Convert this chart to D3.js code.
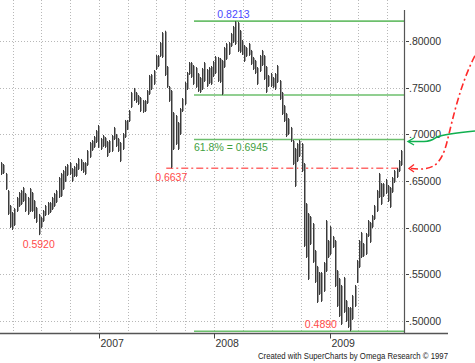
<!DOCTYPE html>
<html><head><meta charset="utf-8">
<script src="https://cdn.jsdelivr.net/npm/d3@7"></script>
<style>body{margin:0;background:#fff}svg{display:block}text{font-family:"Liberation Sans",Arial,sans-serif}</style>
</head><body>
<svg id="c" width="475" height="363"></svg>
<script>
// Weekly NZD/USD bars, first week ending 2006-02-24
const startDate = "2006-02-24";
const highs = [.6703,.6682,.6586,.6404,.6243,.6168,.6211,.6329,.6382,.6404,.6436,.6372,.6329,.6425,.6382,.6296,.6222,.6147,.6114,.6189,
.6243,.6275,.6275,.6329,.6372,.6404,.6543,.6586,.6618,.6661,.6682,.6703,.6639,.6661,.6693,.6746,.6736,.6703,.6703,.6832,
.6918,.6939,.6982,.7046,.7100,.6961,.6993,.6971,.6929,.6939,.6993,.7079,.7004,.6961,.6918,.7014,.7154,.7154,.7261,.7454,
.7497,.7454,.7421,.7400,.7368,.7368,.7475,.7636,.7646,.7689,.7850,.7850,.7989,.8096,.8110,.7732,.7518,.7475,.7239,.7207,
.7132,.7282,.7389,.7561,.7668,.7775,.7775,.7743,.7721,.7657,.7614,.7711,.7775,.7700,.7721,.7732,.7786,.7839,.7829,.7818,
.7797,.7936,.7979,.7989,.8086,.8161,.8213,.8204,.8118,.8011,.7957,.7936,.7979,.7904,.7829,.7797,.7721,.7850,.7904,.7850,
.7732,.7636,.7657,.7614,.7657,.7743,.7582,.7454,.7314,.7229,.7175,.7079,.6939,.6854,.6907,.6939,.6907,.6693,.6264,.6157,
.6125,.6050,.5761,.5590,.5525,.5525,.5632,.6082,.5868,.6018,.5911,.5868,.5546,.5461,.5386,.5472,.5225,.5150,.5150,.5279,
.5386,.5654,.5868,.5954,.5836,.5943,.6082,.6061,.6136,.6243,.6404,.6586,.6479,.6479,.6522,.6457,.6436,.6543,.6618,.6639,
.6725,.6832];
const lows = [.6564,.6575,.6404,.6136,.5996,.5975,.6018,.6168,.6222,.6243,.6275,.6168,.6136,.6168,.6168,.6093,.6050,.5920,.5996,.6061,
.6125,.6136,.6157,.6189,.6222,.6264,.6318,.6329,.6404,.6489,.6553,.6564,.6489,.6543,.6543,.6618,.6607,.6586,.6564,.6661,
.6747,.6822,.6854,.6907,.6854,.6832,.6864,.6854,.6757,.6800,.6811,.6939,.6864,.6811,.6703,.6832,.6961,.7046,.7132,.7282,
.7357,.7336,.7314,.7239,.7229,.7239,.7325,.7422,.7475,.7529,.7689,.7721,.7829,.7818,.7625,.7497,.7347,.6637,.6832,.6886,
.6832,.6993,.7239,.7314,.7475,.7636,.7604,.7529,.7497,.7454,.7443,.7475,.7561,.7507,.7539,.7529,.7614,.7646,.7561,.7550,
.7421,.7711,.7797,.7850,.7936,.7979,.7957,.7882,.7872,.7850,.7775,.7829,.7840,.7743,.7689,.7646,.7529,.7668,.7732,.7582,
.7443,.7507,.7507,.7497,.7475,.7550,.7368,.7207,.7132,.6971,.6993,.6918,.6671,.6436,.6703,.6757,.6596,.5793,.5675,.5439,
.5814,.5622,.5407,.5193,.5279,.5204,.5311,.5525,.5675,.5707,.5782,.5364,.5150,.5043,.4957,.5086,.4990,.4925,.4890,.5011,
.5150,.5407,.5568,.5675,.5686,.5707,.5900,.5836,.5996,.6082,.6168,.6318,.6243,.6329,.6361,.6275,.6211,.6372,.6479,.6532,
.6596,.6661];
const yTicks = [0.50,0.55,0.60,0.65,0.70,0.75,0.80];
const yTickLabels = [".50000",".55000",".60000",".65000",".70000",".75000",".80000"];
const yearTicks = ["2007","2008","2009"];
const levels = [0.8213, 0.7421, 0.6945, 0.4890];          // green support/resistance lines
const fibLabel = "61.8% = 0.6945";
// [date, text, value, anchor, below(1)/above(0)]
const lowLabels = [["2006-06-23","0.5920",0.5920,"middle",1],["2007-08-17","0.6637",0.6637,"middle",1],["2009-01-23","0.4890",0.4890,"end",0]];
const highLabel = ["2008-03-01","0.8213",0.8213];
const credit = "Created with SuperCharts by Omega Research \u00A9 1997";

const svg = d3.select("#c");
const parse = d3.timeParse("%Y-%m-%d");
const start = parse(startDate);
const dates = highs.map((_, i) => d3.timeDay.offset(start, 7 * i));

const x = d3.scaleTime().domain([new Date(2007,0,1), new Date(2009,0,1)]).range([99.3, 330]);
const y = d3.scaleLinear().domain([0.50, 0.80]).range([321, 41]);
const axisX = 404, axisY = 333.5;

// gridlines
const quarters = d3.timeMonths(new Date(2006,3,1), new Date(2009,7,2), 3);
svg.append("g").selectAll("line").data(quarters).join("line")
  .attr("x1", d => Math.round(x(d)) + 0.5).attr("x2", d => Math.round(x(d)) + 0.5)
  .attr("y1", 0).attr("y2", axisY)
  .attr("stroke", "#b8b8b8").attr("stroke-dasharray", "1,2");
svg.append("g").selectAll("line").data(yTicks).join("line")
  .attr("x1", 0).attr("x2", axisX)
  .attr("y1", d => Math.round(y(d)) + 0.5).attr("y2", d => Math.round(y(d)) + 0.5)
  .attr("stroke", "#b8b8b8").attr("stroke-dasharray", "1,2");

// green level lines
const lvlStart = 194;
svg.append("g").selectAll("line").data(levels).join("line")
  .attr("x1", lvlStart).attr("x2", axisX)
  .attr("y1", d => y(d)).attr("y2", d => y(d))
  .attr("stroke", "#6cbf6c").attr("stroke-width", 1.6);

// red dash-dot at 0.6637
svg.append("line").attr("x1", x(parse("2007-08-17")) - 5).attr("x2", 400)
  .attr("y1", y(0.6637)).attr("y2", y(0.6637))
  .attr("stroke", "#ff6a6a").attr("stroke-width", 1.6).attr("stroke-dasharray", "7,3,2,3");

// bars
const bars = svg.append("g");
dates.forEach((d, i) => {
  const bx = Math.round(x(d));
  bars.append("line").attr("x1", bx + 1.5).attr("x2", bx + 1.5)
    .attr("y1", y(highs[i]) + 1).attr("y2", y(lows[i]) - 1).attr("stroke", "#a0a0a0");
  bars.append("line").attr("x1", bx + 0.5).attr("x2", bx + 0.5)
    .attr("y1", y(highs[i])).attr("y2", y(lows[i])).attr("stroke", "#3a3a3a");
});

// axes
svg.append("line").attr("x1", axisX + 0.5).attr("x2", axisX + 0.5).attr("y1", 10).attr("y2", axisY)
  .attr("stroke", "#555").attr("stroke-width", 1.2);
svg.append("line").attr("x1", 0).attr("x2", 448).attr("y1", axisY).attr("y2", axisY)
  .attr("stroke", "#555").attr("stroke-width", 1.6);
const yt = svg.append("g");
yTicks.forEach((v, i) => {
  yt.append("line").attr("x1", axisX + 2).attr("x2", axisX + 5).attr("y1", Math.round(y(v)) + 0.5).attr("y2", Math.round(y(v)) + 0.5).attr("stroke", "#444");
  yt.append("text").attr("x", axisX + 5).attr("y", y(v) + 4).attr("font-size", "10.5px").attr("fill", "#333").text(yTickLabels[i]);
});
yearTicks.forEach(t => {
  const tx = Math.round(x(new Date(+t, 0, 1))) + 0.5;
  svg.append("line").attr("x1", tx).attr("x2", tx).attr("y1", axisY).attr("y2", axisY + 5).attr("stroke", "#444");
  svg.append("text").attr("x", tx + 1).attr("y", 346.5).attr("font-size", "10.5px").attr("fill", "#333").text(t);
});
svg.append("text").attr("x", 258).attr("y", 358.5).attr("font-size", "8.2px").attr("fill", "#222")
  .attr("textLength", 190).attr("lengthAdjust", "spacingAndGlyphs").text(credit);

// labels
svg.append("text").attr("x", x(parse(highLabel[0]))).attr("y", y(highLabel[2]) - 3)
  .attr("text-anchor", "middle").attr("font-size", "10.5px").attr("fill", "#4a4aff").text(highLabel[1]);
svg.append("text").attr("x", lvlStart).attr("y", y(0.6945) + 12).attr("font-size", "10.5px").attr("fill", "#3f9f3f").text(fibLabel);
lowLabels.forEach(l => {
  svg.append("text").attr("x", x(parse(l[0]))).attr("y", l[4] ? y(l[2]) + 13 : y(l[2]) - 3)
    .attr("text-anchor", l[3]).attr("font-size", "10.5px").attr("fill", "#ff4a4a").text(l[1]);
});

// annotation arrows at right
svg.append("path").attr("d", "M411,168.5 C432,171 441,166 447,142 C453,118 461,80 478,50")
  .attr("fill", "none").attr("stroke", "#ff2a2a").attr("stroke-width", 1.6).attr("stroke-dasharray", "7,3,2,3");
svg.append("path").attr("d", "M414,164.5 L409,168.5 L414,172").attr("fill", "none").attr("stroke", "#ff2a2a").attr("stroke-width", 1.4);
svg.append("path").attr("d", "M475,131 C455,133 442,135 437,137 C432,140 430,141.5 424,141.5 L409,141.5")
  .attr("fill", "none").attr("stroke", "#10b050").attr("stroke-width", 1.6);
svg.append("path").attr("d", "M414,138 L408,141.5 L414,145").attr("fill", "none").attr("stroke", "#10b050").attr("stroke-width", 1.4);
</script>
</body></html>
